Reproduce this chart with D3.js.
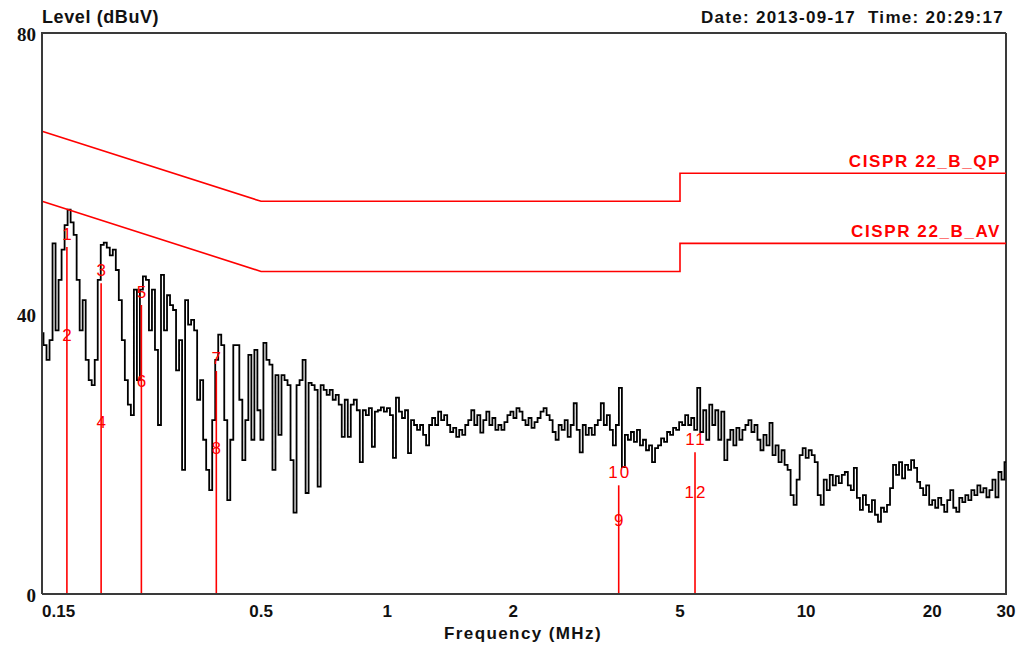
<!DOCTYPE html>
<html>
<head>
<meta charset="utf-8">
<script src="https://cdn.jsdelivr.net/npm/d3@7"></script>
<style>
  html, body { margin: 0; padding: 0; background: #fff; }
  svg { display: block; }
</style>
</head>
<body>
<svg id="chart" width="1028" height="646"></svg>
<script>
// ---------------- DATA ----------------
const titleText = "Level (dBuV)";
const dateText = "Date: 2013-09-17  Time: 20:29:17";
const xAxisTitle = "Frequency (MHz)";

const xTicks = [0.15, 0.5, 1, 2, 5, 10, 20, 30];
const xTickLabels = ["0.15", "0.5", "1", "2", "5", "10", "20", "30"];
const yTicks = [0, 40, 80];
const yTickLabels = ["0", "40", "80"];

// Limit lines (CISPR 22 class B)
const qpLimitFreq = [0.15, 0.5, 5, 5, 30];
const qpLimitLevel = [66, 56, 56, 60, 60];
const avLimitFreq = [0.15, 0.5, 5, 5, 30];
const avLimitLevel = [56, 46, 46, 50, 50];
const qpLimitName = "CISPR 22_B_QP";
const avLimitName = "CISPR 22_B_AV";

// Markers (number, frequency MHz, level dBuV)
const markerNumbers = [1, 2, 3, 4, 5, 6, 7, 8, 9, 10, 11, 12];
const markerFreq = [0.172, 0.172, 0.2076, 0.2076, 0.259, 0.259, 0.391, 0.391, 3.57, 3.57, 5.43, 5.43];
const markerLevel = [49.5, 35.1, 44.3, 22.7, 41.2, 28.5, 31.8, 19.0, 8.7, 15.5, 20.2, 12.7];

// Measured trace, sweep points from 0.15 MHz to 30 MHz (log-spaced sweep)
const sweepStartMHz = 0.15;
const sweepStopMHz = 30;
const traceLevel = [
  37.2, 35.5, 33.4, 36.2, 50.0, 37.6, 44.8, 49.1, 52.6, 54.8,
  53.0, 51.2, 44.8, 37.6, 41.9, 33.4, 30.5, 29.8, 33.4, 44.8,
  49.8, 50.1, 49.4, 48.3, 49.1, 46.2, 41.9, 36.2, 30.5, 27.0,
  25.5, 43.4, 30.5, 43.4, 45.3, 44.8, 37.6, 43.4, 34.8, 24.1,
  45.5, 37.6, 42.6, 41.2, 40.5, 31.9, 36.2, 17.7, 41.9, 38.4,
  39.1, 37.6, 27.7, 30.5, 22.0, 17.7, 14.8, 24.8, 33.4, 37.0,
  35.5, 24.8, 13.4, 22.0, 35.5, 35.5, 27.7, 19.1, 24.8, 34.1,
  22.0, 34.8, 26.2, 22.0, 35.8, 33.4, 32.7, 17.7, 31.2, 22.7,
  31.2, 30.5, 29.8, 19.1, 11.6, 29.8, 30.5, 33.4, 14.4, 30.1,
  29.8, 29.1, 15.3, 29.8, 29.1, 28.4, 29.1, 27.7, 28.4, 27.0,
  22.4, 27.7, 22.4, 27.0, 27.7, 26.2, 18.8, 26.2, 25.5, 26.5,
  21.0, 26.0, 26.2, 26.6, 26.0, 26.5, 25.5, 19.4, 28.0, 26.0,
  25.1, 26.2, 20.1, 24.8, 24.1, 23.4, 24.1, 22.7, 21.2, 24.1,
  25.1, 24.1, 26.0, 24.8, 25.5, 24.1, 23.1, 23.7, 22.4, 23.4,
  22.7, 24.1, 24.8, 26.2, 24.1, 25.5, 23.0, 24.8, 26.0, 24.1,
  25.1, 23.4, 24.1, 23.4, 24.5, 25.5, 26.0, 25.1, 26.5, 26.0,
  24.8, 24.1, 25.1, 23.7, 24.5, 25.1, 26.0, 26.5, 25.5, 24.8,
  23.1, 22.0, 24.1, 23.4, 24.8, 22.4, 24.1, 27.2, 23.4, 20.2,
  24.1, 22.7, 23.7, 22.7, 24.1, 24.8, 27.2, 24.1, 25.5, 23.4,
  21.2, 24.1, 29.4, 18.1, 22.7, 22.0, 23.1, 21.7, 23.4, 21.2,
  22.0, 20.5, 21.2, 18.8, 20.8, 21.2, 22.2, 21.7, 23.1, 22.7,
  23.7, 23.4, 24.5, 24.1, 25.5, 24.1, 25.1, 23.4, 29.4, 23.1,
  26.2, 22.0, 27.0, 24.1, 26.2, 22.0, 26.0, 19.1, 22.0, 23.4,
  21.2, 23.7, 22.0, 23.4, 24.1, 24.8, 23.1, 24.1, 22.0, 20.5,
  22.7, 21.2, 24.4, 19.8, 21.2, 18.8, 20.5, 18.4, 17.7, 14.1,
  12.7, 16.3, 19.8, 20.8, 19.4, 20.5, 19.8, 18.8, 14.1, 12.7,
  16.3, 14.8, 17.0, 15.5, 16.8, 15.8, 17.0, 17.4, 15.5, 14.8,
  18.0, 13.7, 12.0, 14.1, 12.7, 11.7, 13.4, 11.3, 10.3, 12.3,
  11.7, 12.7, 15.1, 18.4, 17.0, 18.8, 16.5, 18.4, 17.7, 19.1,
  18.0, 16.0, 15.1, 14.1, 15.5, 12.7, 13.4, 12.3, 13.7, 12.7,
  11.7, 13.4, 14.8, 12.3, 11.7, 13.7, 13.1, 14.1, 13.4, 14.8,
  14.1, 15.5, 14.5, 15.1, 13.8, 14.8, 16.3, 13.8, 17.4, 16.3,
  18.8
];

// ---------------- LAYOUT ----------------
const svg = d3.select("#chart");
const plotLeft = 42, plotRight = 1006, plotTop = 33, plotBottom = 594;

const x = d3.scaleLog().domain([0.15, 30]).range([plotLeft, plotRight]);
const y = d3.scaleLinear().domain([0, 80]).range([plotBottom, plotTop]);

const sansBold = "'Liberation Sans', Arial, sans-serif";
const serifBold = "'Liberation Serif', 'Times New Roman', serif";

// Frame: top and right
svg.append("line").attr("x1", plotLeft).attr("x2", plotRight).attr("y1", plotTop).attr("y2", plotTop)
  .attr("stroke", "#3a3a3a").attr("stroke-width", 2);
svg.append("line").attr("x1", plotRight).attr("x2", plotRight).attr("y1", plotTop).attr("y2", plotBottom)
  .attr("stroke", "#3a3a3a").attr("stroke-width", 2);

// Trace (drawn step-wise like the analyzer's bitmap plot)
const traceFreq = traceLevel.map((d, i) =>
  sweepStartMHz * Math.pow(sweepStopMHz / sweepStartMHz, i / (traceLevel.length - 1)));
const trace = traceLevel.map((d, i) => ({ f: traceFreq[i], v: d }));
svg.append("path")
  .datum(trace)
  .attr("fill", "none")
  .attr("stroke", "#000")
  .attr("stroke-width", 1.8)
  .attr("d", d3.line().curve(d3.curveStep).x(d => x(d.f)).y(d => y(d.v)));

// Limit lines
function limitLine(freqs, levels) {
  const pts = freqs.map((f, i) => ({ f, v: levels[i] }));
  svg.append("path").datum(pts)
    .attr("fill", "none").attr("stroke", "#ff0000").attr("stroke-width", 1.6)
    .attr("d", d3.line().x(d => x(d.f)).y(d => y(d.v)));
}
limitLine(qpLimitFreq, qpLimitLevel);
limitLine(avLimitFreq, avLimitLevel);

[[qpLimitName, qpLimitLevel], [avLimitName, avLimitLevel]].forEach(([name, lv]) => {
  svg.append("text").text(name)
    .attr("x", plotRight - 5).attr("y", y(lv[lv.length - 1]) - 6)
    .attr("text-anchor", "end").attr("fill", "#ff0000")
    .attr("font-family", sansBold).attr("font-weight", "bold").attr("font-size", 17)
    .attr("letter-spacing", 1.6);
});

// Markers: each pair shares one frequency; line from the higher reading down to 0
const markers = markerNumbers.map((n, i) => ({ n, f: markerFreq[i], v: markerLevel[i] }));
const pairs = d3.groups(markers, d => d.f);
pairs.forEach(([f, ms]) => {
  const top = d3.max(ms, d => d.v);
  svg.append("line")
    .attr("x1", x(f)).attr("x2", x(f))
    .attr("y1", y(top)).attr("y2", y(0))
    .attr("stroke", "#ff0000").attr("stroke-width", 1.6);
});
svg.selectAll("text.marker").data(markers).enter().append("text")
  .attr("class", "marker")
  .attr("x", d => x(d.f) + 1)
  .attr("y", d => y(d.v) - 7)
  .attr("text-anchor", "middle")
  .attr("fill", "#ff0000")
  .attr("font-family", "'Liberation Sans', Arial, sans-serif")
  .attr("font-size", 17)
  .attr("letter-spacing", 2)
  .text(d => d.n);

// Axes lines (left & bottom)
svg.append("line").attr("x1", plotLeft).attr("x2", plotLeft).attr("y1", plotTop - 1).attr("y2", plotBottom)
  .attr("stroke", "#3a3a3a").attr("stroke-width", 2);
svg.append("line").attr("x1", plotLeft).attr("x2", plotRight + 1).attr("y1", plotBottom).attr("y2", plotBottom)
  .attr("stroke", "#3a3a3a").attr("stroke-width", 2);

// Y tick labels
svg.selectAll("text.ytick").data(yTicks).enter().append("text")
  .attr("class", "ytick")
  .attr("x", 36)
  .attr("y", d => y(d) + 8)
  .attr("text-anchor", "end")
  .attr("font-family", serifBold).attr("font-weight", "bold").attr("font-size", 19)
  .attr("fill", "#111")
  .text((d, i) => yTickLabels[i]);

// X tick labels
svg.selectAll("text.xtick").data(xTicks).enter().append("text")
  .attr("class", "xtick")
  .attr("x", (d, i) => i === 0 ? plotLeft : x(d))
  .attr("y", 617)
  .attr("text-anchor", (d, i) => i === 0 ? "start" : "middle")
  .attr("font-family", sansBold).attr("font-weight", "bold").attr("font-size", 17)
  .attr("fill", "#111")
  .text((d, i) => xTickLabels[i]);

// Titles
svg.append("text").text(titleText)
  .attr("x", 42).attr("y", 23)
  .attr("font-family", sansBold).attr("font-weight", "bold").attr("font-size", 18)
  .attr("letter-spacing", 0.6).attr("fill", "#111");
svg.append("text").text(dateText)
  .attr("x", 1004).attr("y", 23).attr("text-anchor", "end")
  .attr("font-family", sansBold).attr("font-weight", "bold").attr("font-size", 17)
  .attr("letter-spacing", 1.3).attr("fill", "#111")
  .style("white-space", "pre");
svg.append("text").text(xAxisTitle)
  .attr("x", 523).attr("y", 639).attr("text-anchor", "middle")
  .attr("font-family", sansBold).attr("font-weight", "bold").attr("font-size", 17)
  .attr("letter-spacing", 1.4).attr("fill", "#111");
</script>
</body>
</html>
